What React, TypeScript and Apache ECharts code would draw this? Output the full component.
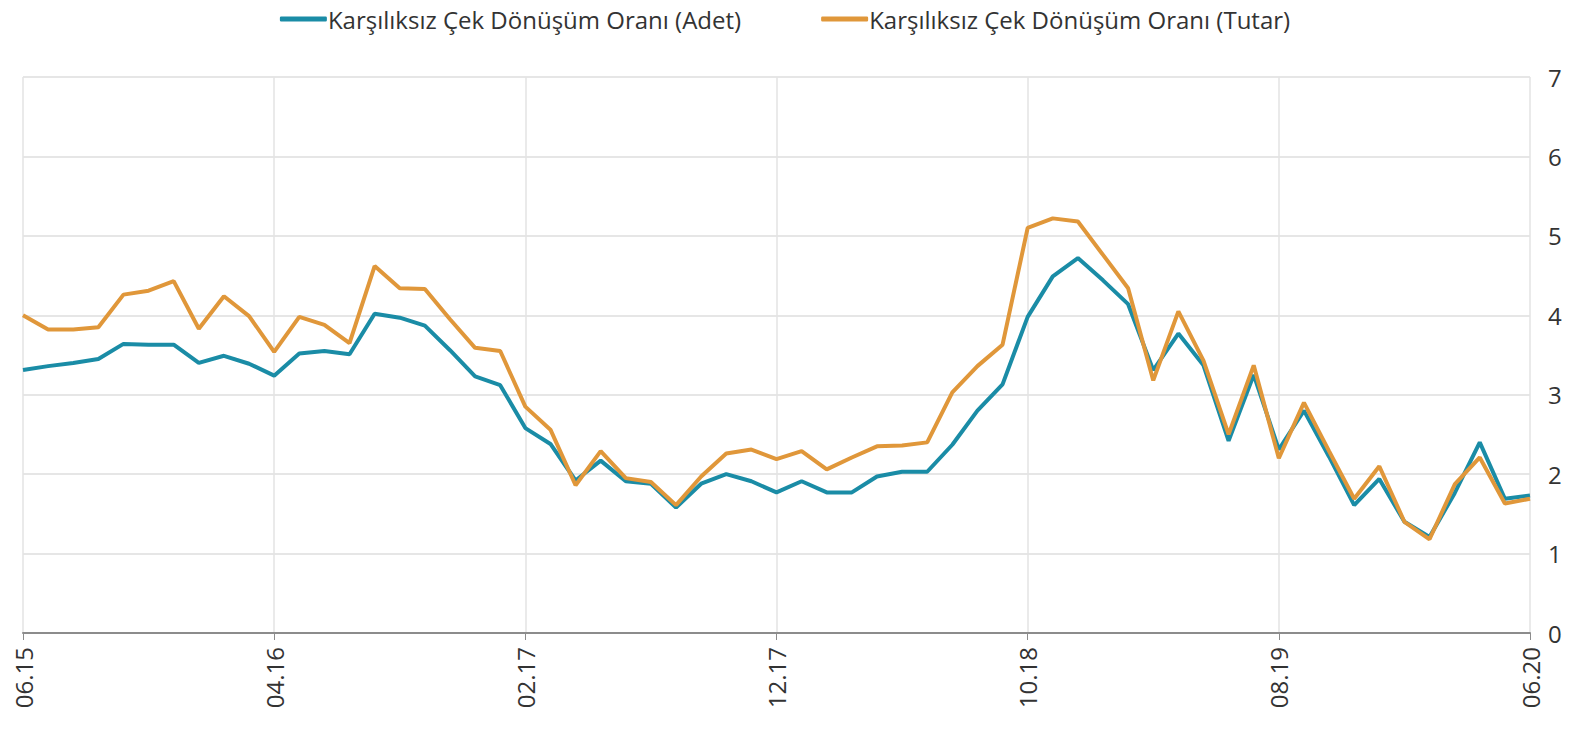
import React, { useEffect, useRef } from "react";
import * as echarts from "echarts";

const START_MONTH = 6;
const START_YEAR = 15;
const MONTH_COUNT = 61;

const adet = [
  3.31, 3.36, 3.40, 3.45, 3.64, 3.63, 3.63, 3.40, 3.49, 3.39,
  3.24, 3.52, 3.55, 3.51, 4.02, 3.97, 3.87, 3.56, 3.23, 3.12,
  2.58, 2.38, 1.92, 2.17, 1.91, 1.88, 1.58, 1.88, 2.00, 1.91,
  1.77, 1.91, 1.77, 1.77, 1.97, 2.03, 2.03, 2.37, 2.80, 3.13,
  3.98, 4.49, 4.72, 4.44, 4.14, 3.31, 3.77, 3.37, 2.42, 3.25,
  2.31, 2.80, 2.22, 1.61, 1.94, 1.40, 1.21, 1.76, 2.40, 1.69,
  1.73,
];

const tutar = [
  4.00, 3.82, 3.82, 3.85, 4.26, 4.31, 4.43, 3.83, 4.24, 3.99,
  3.54, 3.98, 3.88, 3.65, 4.62, 4.34, 4.33, 3.95, 3.59, 3.55,
  2.85, 2.56, 1.86, 2.29, 1.95, 1.90, 1.61, 1.97, 2.26, 2.31,
  2.19, 2.29, 2.06, 2.21, 2.35, 2.36, 2.40, 3.03, 3.36, 3.63,
  5.10, 5.22, 5.18, 4.76, 4.34, 3.18, 4.05, 3.43, 2.50, 3.37,
  2.20, 2.90, 2.29, 1.69, 2.10, 1.40, 1.18, 1.87, 2.21, 1.63,
  1.69,
];

const categories: string[] = [];
for (let i = 0; i < MONTH_COUNT; i++) {
  const m = ((START_MONTH - 1 + i) % 12) + 1;
  const y = START_YEAR + Math.floor((START_MONTH - 1 + i) / 12);
  categories.push(String(m).padStart(2, "0") + "." + String(y));
}

const seriesNames = [
  "Karşılıksız Çek Dönüşüm Oranı (Adet)",
  "Karşılıksız Çek Dönüşüm Oranı (Tutar)",
];

const TEAL = "#1a8ca6";
const ORANGE = "#e0973a";

export default function App() {
  const ref = useRef<HTMLDivElement>(null);
  useEffect(() => {
    if (!ref.current) return;
    const chart = echarts.init(ref.current, undefined, { renderer: "svg" });
    chart.setOption({
      animation: false,
      textStyle: { fontFamily: "Open Sans" },
      legend: {
        top: 2,
        left: "center",
        itemWidth: 47,
        itemHeight: 5,
        itemGap: 80,
        icon: "roundRect",
        textStyle: { fontSize: 24, color: "#333", fontFamily: "Open Sans", padding: [0, 0, 0, -4] },
        data: seriesNames,
      },
      grid: { left: 23, right: 40, top: 77, bottom: 99, containLabel: false },
      xAxis: {
        type: "category",
        data: categories,
        boundaryGap: false,
        axisLine: { lineStyle: { color: "#8c8c8c", width: 2 } },
        axisTick: { show: true, interval: 9, length: 7, lineStyle: { color: "#8c8c8c" } },
        axisLabel: {
          interval: 9,
          rotate: 90,
          fontSize: 24,
          color: "#333",
          margin: 14,
          fontFamily: "Open Sans",
        },
        splitLine: { show: true, interval: 9, lineStyle: { color: "#e3e3e3", width: 1.5 } },
      },
      yAxis: {
        type: "value",
        position: "right",
        min: 0,
        max: 7,
        interval: 1,
        axisLine: { show: false },
        axisTick: { show: false },
        axisLabel: { fontSize: 24, color: "#333", margin: 18, fontFamily: "Open Sans" },
        splitLine: { lineStyle: { color: "#e6e6e6", width: 2 } },
      },
      series: [
        {
          name: seriesNames[0],
          type: "line",
          data: adet,
          showSymbol: false,
          symbol: "none",
          lineStyle: { color: TEAL, width: 4 },
          itemStyle: { color: TEAL },
          z: 2,
        },
        {
          name: seriesNames[1],
          type: "line",
          data: tutar,
          showSymbol: false,
          symbol: "none",
          lineStyle: { color: ORANGE, width: 4 },
          itemStyle: { color: ORANGE },
          z: 3,
        },
      ],
    });
    return () => chart.dispose();
  }, []);
  return (
    <div
      ref={ref}
      style={{ position: "fixed", left: 0, top: 0, width: 1570, height: 732, background: "#fff" }}
    />
  );
}
